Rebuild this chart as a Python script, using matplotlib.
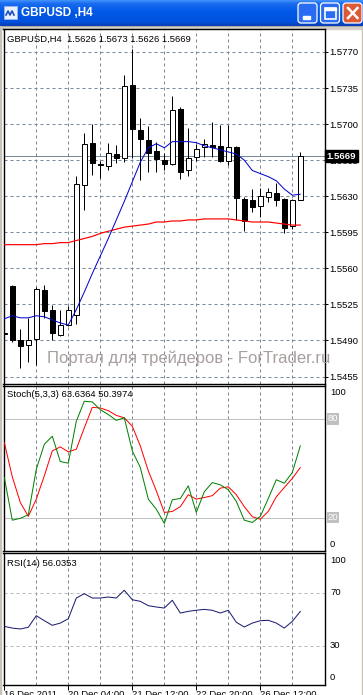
import matplotlib
matplotlib.use('Agg')
import matplotlib.pyplot as plt
import numpy as np
from matplotlib.patches import Rectangle, FancyBboxPatch
from matplotlib.colors import LinearSegmentedColormap

plt.rcParams['font.family'] = ['Liberation Sans', 'DejaVu Sans']

# GBPUSD H4 candles
opens = [1.5497, 1.5543, 1.5490, 1.5486, 1.5491, 1.5539, 1.5520, 1.5495, 1.5505, 1.5515,
         1.5641, 1.5682, 1.5661, 1.5659, 1.5671, 1.5667, 1.5738, 1.5694, 1.5685, 1.5674,
         1.5665, 1.5661, 1.5715, 1.5655, 1.5668, 1.5678, 1.5680, 1.5679, 1.5664, 1.5678,
         1.5627, 1.5626, 1.5621, 1.5629, 1.5633, 1.5627, 1.5601, 1.5626]
highs = [1.5503, 1.5544, 1.5501, 1.5512, 1.5542, 1.5544, 1.5524, 1.5520, 1.5523, 1.5650,
         1.5691, 1.5700, 1.5664, 1.5682, 1.5680, 1.5748, 1.5773, 1.5706, 1.5698, 1.5683,
         1.5672, 1.5727, 1.5717, 1.5696, 1.5681, 1.5686, 1.5702, 1.5699, 1.5699, 1.5679,
         1.5629, 1.5637, 1.5638, 1.5638, 1.5643, 1.5628, 1.5627, 1.5673]
lows = [1.5490, 1.5489, 1.5463, 1.5469, 1.5466, 1.5512, 1.5490, 1.5494, 1.5504, 1.5506,
        1.5617, 1.5651, 1.5648, 1.5655, 1.5662, 1.5663, 1.5667, 1.5646, 1.5654, 1.5654,
        1.5655, 1.5660, 1.5647, 1.5650, 1.5664, 1.5668, 1.5668, 1.5663, 1.5660, 1.5607,
        1.5596, 1.5615, 1.5610, 1.5624, 1.5621, 1.5594, 1.5598, 1.5626]
closes = [1.5496, 1.5490, 1.5485, 1.5490, 1.5540, 1.5519, 1.5497, 1.5505, 1.5520, 1.5642,
          1.5681, 1.5662, 1.5660, 1.5672, 1.5667, 1.5737, 1.5695, 1.5686, 1.5672, 1.5666,
          1.5661, 1.5714, 1.5654, 1.5667, 1.5676, 1.5681, 1.5678, 1.5664, 1.5678, 1.5628,
          1.5606, 1.5620, 1.5630, 1.5634, 1.5626, 1.5599, 1.5626, 1.5669]

ma_fast = [1.5511, 1.5514, 1.5512, 1.5512, 1.5514, 1.5513, 1.5510, 1.5507, 1.5505, 1.5520,
           1.5537, 1.5555, 1.5572, 1.5589, 1.5607, 1.5625, 1.5644, 1.5663, 1.5677, 1.5681,
           1.5677, 1.5683, 1.5683, 1.5683, 1.5682, 1.5679, 1.5677, 1.5675, 1.5673, 1.5671,
           1.5665, 1.5655, 1.5652, 1.5649, 1.5645, 1.5637, 1.5631, 1.5632]
ma_slow = [1.5583, 1.5583, 1.5583, 1.5583, 1.5583, 1.5584, 1.5584, 1.5585, 1.5585, 1.5587,
           1.5589, 1.5591, 1.5594, 1.5596, 1.5598, 1.5600, 1.5601, 1.5602, 1.5603, 1.5605,
           1.5605, 1.5606, 1.5606, 1.5607, 1.5607, 1.5608, 1.5608, 1.5608, 1.5608, 1.5607,
           1.5606, 1.5605, 1.5605, 1.5605, 1.5604, 1.5603, 1.5602, 1.5602]

stoch_k = [44.4, 18.4, 19.5, 21.7, 49.4, 64.6, 69.5, 54.1, 53.1, 78.6,
           90.8, 90.4, 85.7, 82.7, 79.2, 80.7, 60.6, 50.5, 31.2, 25.1,
           16.4, 30.8, 31.6, 39.3, 23.1, 35.7, 41.3, 39.9, 36.9, 29.8,
           18.4, 17.0, 20.7, 31.6, 43.0, 40.9, 47.4, 63.6364]
stoch_d = [65.7, 44.8, 29.2, 20.7, 31.2, 45.4, 60.6, 63.0, 60.0, 61.6,
           74.6, 87.1, 86.7, 85.1, 82.2, 80.7, 75.6, 63.6, 48.4, 36.3,
           23.1, 23.7, 26.6, 33.9, 31.2, 32.2, 33.3, 37.9, 38.7, 33.9,
           26.6, 20.5, 19.0, 23.7, 32.6, 38.3, 43.8, 50.3974]
rsi = [44.7, 43.4, 42.7, 44.0, 52.8, 49.0, 45.5, 47.2, 50.5, 66.2,
       69.5, 66.2, 66.2, 67.0, 66.2, 72.1, 64.9, 63.7, 60.4, 59.4,
       58.6, 64.5, 54.8, 56.1, 56.9, 57.6, 56.9, 54.8, 56.9, 47.8,
       44.2, 47.2, 49.0, 49.3, 47.2, 43.4, 48.5, 56.0353]

price_ticks = [1.5455, 1.5490, 1.5525, 1.5560, 1.5595, 1.5630, 1.5665, 1.5700, 1.5735, 1.5770]
date_idx = [0, 8, 16, 24, 32]
date_labels = ['16 Dec 2011', '20 Dec 04:00', '21 Dec 12:00', '22 Dec 20:00', '26 Dec 12:00']

W, H = 363, 695
PX = 0.72
GRID = '#778899'
FS = 6.8

fig = plt.figure(figsize=(W / 100, H / 100), dpi=100)
fig.patch.set_facecolor('white')


def rect(x0, y0, x1, y1):
    return [x0 / W, 1 - y1 / H, (x1 - x0) / W, (y1 - y0) / H]


# window chrome
bg = fig.add_axes([0, 0, 1, 1], zorder=-1)
bg.set_xlim(0, W)
bg.set_ylim(H, 0)
bg.axis('off')
bg.add_patch(Rectangle((0, 26), W, 1, color='#a0a0a0'))
bg.add_patch(Rectangle((0, 27), W, 1.5, color='#d4d0c8'))
bg.add_patch(Rectangle((0, 26), 1, H, color='#c8c4bc'))
bg.add_patch(Rectangle((W - 1, 26), 1, H, color='#c8c4bc'))

tb = fig.add_axes(rect(0, 0, W, 26))
tb.set_xlim(0, W)
tb.set_ylim(26, 0)
tb.axis('off')
cmap = LinearSegmentedColormap.from_list('xp', [(0, '#3d8ef8'), (0.12, '#1a6cf0'), (0.45, '#0058e6'),
                                                (0.85, '#0052dd'), (1, '#0a3fb5')])
tb.imshow(np.linspace(0, 1, 26).reshape(-1, 1), cmap=cmap, extent=[0, W, 26, 0], aspect='auto')
tb.add_patch(Rectangle((4, 6), 13, 13, facecolor='#e8f0ff', edgecolor='#9ab8e8', lw=0.6))
tb.plot([6, 8, 10, 12, 14], [15, 11, 15, 11, 15], color='#2050c0', lw=1.2)
tb.text(21, 13.5, 'GBPUSD ,H4', color='white', fontsize=8.5, fontweight='bold', va='center', ha='left')
for bx, fc in [(298, '#2a6df2'), (320.5, '#2a6df2'), (343, '#dc5a36')]:
    tb.add_patch(FancyBboxPatch((bx, 3), 19, 20, boxstyle='round,pad=0,rounding_size=3',
                                facecolor=fc, edgecolor='white', lw=0.9))
tb.add_patch(Rectangle((303, 16), 7, 3, color='white'))
tb.add_patch(Rectangle((325, 7.5), 11, 11, facecolor='none', edgecolor='white', lw=1.2))
tb.add_patch(Rectangle((325, 7.5), 11, 2, color='white'))
tb.plot([348, 357.5], [8, 18], color='white', lw=1.8)
tb.plot([348, 357.5], [18, 8], color='white', lw=1.8)

x = np.arange(len(closes))
o = np.array(opens)
c = np.array(closes)
xl = (-0.1, 40.025)


def frame(ax):
    ax.set_xlim(*xl)
    for s in ax.spines.values():
        s.set_linewidth(1.0)
        s.set_color('black')
    ax.tick_params(axis='x', length=0, labelbottom=False)
    for g in range(4, len(closes), 4):
        ax.axvline(g, color=GRID, lw=PX, ls=(0, (3, 3)), zorder=0.5)


# main price panel
ax = fig.add_axes(rect(3.5, 29, 324.5, 383.5))
frame(ax)
ax.set_ylim(1.544825, 1.579232)
for p in price_ticks:
    ax.axhline(p, color=GRID, lw=PX, ls=(0, (3, 3)), zorder=0.5)
ax.axhline(closes[-1], color=GRID, lw=PX, zorder=1)
ax.yaxis.tick_right()
ax.set_yticks(price_ticks)
ax.set_yticklabels(['%.4f' % p for p in price_ticks])
ax.tick_params(axis='y', length=2.2, width=PX, pad=1.5, labelsize=FS)
ax.vlines(x, lows, highs, color='black', lw=PX, zorder=2)
bull = c >= o
ax.bar(x[bull], (c - o)[bull], bottom=o[bull], width=0.56, facecolor='white',
       edgecolor='black', lw=PX, zorder=3)
ax.bar(x[~bull], (c - o)[~bull], bottom=o[~bull], width=0.56, facecolor='black',
       edgecolor='black', lw=PX, zorder=3)
ax.plot(x, ma_slow, color='red', lw=PX * 1.2, zorder=4)
ax.plot(x, ma_fast, color='#0000cd', lw=PX, zorder=4)
ax.text(0.012, 1 - 10 / 354.5, 'GBPUSD,H4  %.4f %.4f %.4f %.4f' % (opens[-1], highs[-1], lows[-1], closes[-1]),
        transform=ax.transAxes, fontsize=FS, va='center', ha='left')
ax.text(1.0065, closes[-1], '%.4f' % closes[-1], transform=ax.get_yaxis_transform(),
        color='white', fontsize=FS, fontweight='bold', va='center', ha='left', zorder=10,
        bbox=dict(facecolor='black', edgecolor='black', pad=1.2), clip_on=False)

fig.text(47 / W, 1 - 358.5 / H, 'Портал для трейдеров - ForTrader.ru', fontsize=12,
         color='#a89e9e', va='center', ha='left', zorder=20)

# stochastic panel
ax2 = fig.add_axes(rect(3.5, 385.5, 324.5, 550.7))
frame(ax2)
ax2.set_ylim(-0.2, 100.4)
ax2.set_yticks([])
for lv in [20, 80]:
    ax2.axhline(lv, color='#c0c0c0', lw=PX, zorder=0.6)
    ax2.text(1.01, lv, str(lv), transform=ax2.get_yaxis_transform(), color='white', fontsize=FS,
             va='center', ha='left', clip_on=False,
             bbox=dict(facecolor='#c0c0c0', edgecolor='none', pad=0.8))
ax2.plot(x, stoch_d, color='red', lw=PX, zorder=3)
ax2.plot(x, stoch_k, color='#008000', lw=PX, zorder=3)
ax2.text(1.0171, 96.2, '100', transform=ax2.get_yaxis_transform(), fontsize=FS, va='center', ha='left')
ax2.text(1.0171, 3.8, '0', transform=ax2.get_yaxis_transform(), fontsize=FS, va='center', ha='left')
ax2.text(0.012, 1 - 9 / 165.2, 'Stoch(5,3,3) %.4f %.4f' % (stoch_k[-1], stoch_d[-1]),
         transform=ax2.transAxes, fontsize=FS, va='center', ha='left')

# RSI panel
ax3 = fig.add_axes(rect(3.5, 553, 324.5, 684.7))
frame(ax3)
ax3.set_ylim(0.4, 100.4)
ax3.set_yticks([])
for lv in [30, 70]:
    ax3.axhline(lv, color='#b8b8b8', lw=PX, ls=(0, (3, 3)), zorder=0.6)
ax3.plot(x, rsi, color='#191970', lw=PX, zorder=3)
for val, yv in [('100', 94.5), ('70', 70.5), ('30', 30.3), ('0', 5.5)]:
    ax3.text(1.0171, yv, val, transform=ax3.get_yaxis_transform(), fontsize=FS, va='center', ha='left')
ax3.text(0.012, 1 - 10.5 / 131.7, 'RSI(14) %.4f' % rsi[-1], transform=ax3.transAxes,
         fontsize=FS, va='center', ha='left')
ax3.set_xticks(date_idx)
ax3.set_xticklabels(date_labels, ha='left')
ax3.tick_params(axis='x', length=3.6, width=PX, pad=0.3, labelsize=FS, labelbottom=True)

fig.savefig('out.png', dpi=100)
